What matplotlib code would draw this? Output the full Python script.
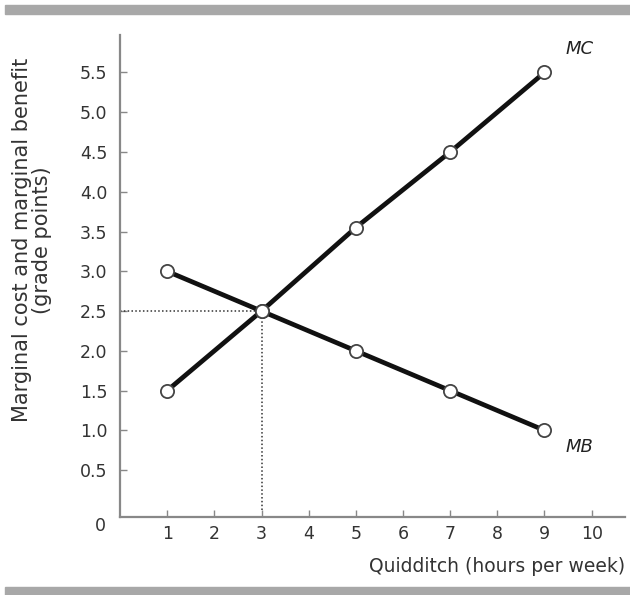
import matplotlib.pyplot as plt
from matplotlib.patches import Rectangle

# data
hours = [1, 3, 5, 7, 9]
mc = [1.5, 2.5, 3.55, 4.5, 5.5]
mb = [3.0, 2.5, 2.0, 1.5, 1.0]
eq_x, eq_y = 3, 2.5
x_ticks = list(range(1, 11))
y_ticks = [0.5, 1.0, 1.5, 2.0, 2.5, 3.0, 3.5, 4.0, 4.5, 5.0, 5.5]

plt.rcParams['font.family'] = 'DejaVu Sans'
fig = plt.figure(figsize=(6.3, 5.95), dpi=100)
ax = fig.add_axes([0.1905, 0.131, 0.801, 0.81])

# grey rules at top and bottom of the figure
fig.patches.append(Rectangle((0.008, 0.976), 0.992, 0.016, transform=fig.transFigure,
                             color='#a8a8a8', zorder=0))
fig.patches.append(Rectangle((0.008, 0.0), 0.992, 0.014, transform=fig.transFigure,
                             color='#a8a8a8', zorder=0))

# guide lines to the equilibrium
ax.plot([0, eq_x], [eq_y, eq_y], color='#333333', linestyle=(0, (1, 1.5)), linewidth=1.1)
ax.plot([eq_x, eq_x], [0, eq_y], color='#333333', linestyle=(0, (1, 1.5)), linewidth=1.1)

for ys in (mc, mb):
    ax.plot(hours, ys, color='#111111', linewidth=3.4, solid_capstyle='round',
            marker='o', markersize=9.5, markerfacecolor='white',
            markeredgecolor='#444444', markeredgewidth=1.3, zorder=3)

ax.text(9.75, 5.8, 'MC', fontsize=13, style='italic', color='#222222', ha='center', va='center')
ax.text(9.75, 0.79, 'MB', fontsize=13, style='italic', color='#222222', ha='center', va='center')

ax.set_xlim(0, 10.7)
ax.set_ylim(-0.09, 5.97)
ax.set_xticks(x_ticks)
ax.set_yticks(y_ticks)
ax.set_yticklabels(['%.1f' % v for v in y_ticks])
ax.tick_params(direction='in', length=5, width=1, color='#888888', labelsize=12.5,
               labelcolor='#333333', pad=6)
ax.tick_params(axis='y', pad=9)
ax.text(-0.42, -0.09, '0', fontsize=12.5, color='#333333', ha='center', va='top',
        transform=ax.transData)

for s in ['top', 'right']:
    ax.spines[s].set_visible(False)
for s in ['left', 'bottom']:
    ax.spines[s].set_color('#888888')
    ax.spines[s].set_linewidth(1.6)

ax.set_xlabel('Quidditch (hours per week)', fontsize=13.5, color='#333333', loc='right', labelpad=10)
ax.set_ylabel('Marginal cost and marginal benefit\n(grade points)', fontsize=15,
              color='#333333', linespacing=1.0)
ax.yaxis.set_label_coords(-0.135, 0.575)

fig.savefig('out.png', dpi=100)
